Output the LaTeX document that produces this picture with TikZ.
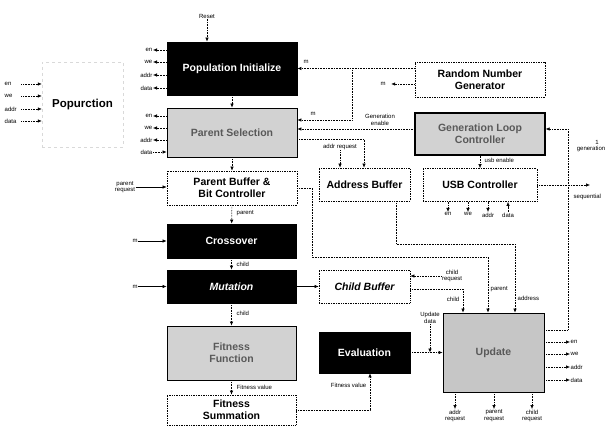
\documentclass[tikz,border=0pt]{standalone}
\usepackage{fontspec}
\setmainfont{Liberation Sans}
\usetikzlibrary{arrows.meta}
\begin{document}
\begin{tikzpicture}[x=1pt,y=-1pt,
  boxfont/.style={font=\bfseries\fontsize{10.5}{12}\selectfont},
  blk/.style={draw=black, fill=black, text=white, boxfont, align=center, inner sep=0pt, line width=0.8pt},
  gry/.style={draw=black, fill=gray!35, text=black!65, boxfont, align=center, inner sep=0pt, line width=0.8pt},
  wht/.style={draw=black, densely dotted, fill=white, text=black, boxfont, align=center, inner sep=0pt, line width=0.7pt},
  lbl/.style={font=\fontsize{6}{6.6}\selectfont, inner sep=0.5pt, align=center},
  arr/.style={-{Latex[length=4pt,width=3.5pt]}, densely dotted, line width=0.6pt},
  sarr/.style={-{Latex[length=4pt,width=3.5pt]}, line width=0.6pt},
]
\useasboundingbox[fill=white] (0,0) rectangle (609,427);

% ---------- boxes ----------
\node[blk, minimum width=130pt, minimum height=53pt] (popinit) at (232,68.5) {Population Initialize};
\node[gry, minimum width=130pt, minimum height=49pt] (parsel) at (232,132.5) {Parent Selection};
\node[wht, minimum width=130pt, minimum height=34pt] (parbuf) at (232,188) {Parent Buffer \&\\Bit Controller};
\node[blk, minimum width=129pt, minimum height=34pt] (cross) at (231.5,241) {Crossover};
\node[blk, minimum width=129pt, minimum height=33pt, font=\bfseries\itshape\fontsize{10.5}{12}\selectfont] (mut) at (231.5,286.5) {Mutation};
\node[gry, minimum width=129pt, minimum height=54pt] (fitfun) at (231.5,353) {Fitness\\Function};
\node[wht, minimum width=129pt, minimum height=30pt] (fitsum) at (231.5,410) {Fitness\\Summation};
\node[wht, minimum width=91pt, minimum height=33pt] (addrbuf) at (364.5,184.5) {Address Buffer};
\node[wht, minimum width=91pt, minimum height=33pt, font=\bfseries\itshape\fontsize{10.5}{12}\selectfont] (childbuf) at (364.5,286.5) {Child Buffer};
\node[blk, minimum width=91pt, minimum height=41pt] (eval) at (364.5,352.5) {Evaluation};
\node[gry, fill=gray!45, minimum width=101pt, minimum height=79pt] (update) at (493.5,352.5) {Update};
\node[wht, minimum width=130pt, minimum height=35pt] (rng) at (480,79.5) {Random Number\\Generator};
\node[gry, line width=1.2pt, minimum width=130pt, minimum height=42pt] (glc) at (480,134) {Generation Loop\\Controller};
\node[wht, minimum width=114pt, minimum height=33pt] (usb) at (480,185) {USB Controller};
\node[draw=gray!30, dashed, minimum width=81pt, minimum height=85pt, font=\bfseries\fontsize{11.5}{12.5}\selectfont] (pop) at (82.5,104.5) {Popurction};

% ---------- Popurction inputs ----------
\foreach \t/\y [count=\i] in {en/84, we/96, addr/109, data/121} {
  \node[lbl, anchor=west, text width=16pt, align=left] (pl\i) at (4,\y) {\t};
  \draw[arr] (pl\i.east) -- (pop.west |- pl\i.east);
}

% ---------- Reset ----------
\node[lbl] (reset) at (207,16) {Reset};
\draw[arr] (reset.south) -- (reset.south |- popinit.north);

% ---------- Population Initialize outputs ----------
\foreach \t/\y [count=\i] in {en/50, we/62, addr/75, data/88} {
  \node[lbl, anchor=east] (pi\i) at (153,\y) {\t};
  \draw[arr] (popinit.west |- pi\i.east) -- (pi\i.east);
}
% ---------- Parent Selection ports ----------
\foreach \t/\y [count=\i] in {en/116, we/128, addr/140} {
  \node[lbl, anchor=east] (ps\i) at (153,\y) {\t};
  \draw[arr] (parsel.west |- ps\i.east) -- (ps\i.east);
}
\node[lbl, anchor=east] (ps4) at (153,152) {data};
\draw[arr] (ps4.east) -- (parsel.west |- ps4.east);

% ---------- main column ----------
\draw[arr] (popinit) -- (parsel);
\draw[arr] (parsel) -- (parbuf);
\draw[arr] (parbuf) -- (cross);
\node[lbl, anchor=west] at (236,213) {parent};
\draw[arr] (cross) -- (mut);
\node[lbl, anchor=west] at (236,264) {child};
\draw[arr] (mut) -- (fitfun);
\node[lbl, anchor=west] at (236,313) {child};
\draw[arr] (fitfun) -- (fitsum);
\node[lbl, anchor=west] at (236,387) {Fitness value};

\node[lbl] (preq) at (125,187) {parent\\request};
\draw[sarr] (preq.east) -- (parbuf.west |- preq.east);
\node[lbl] (mc) at (135,241) {m};
\draw[sarr] (mc.east) -- (cross.west |- mc.east);
\node[lbl] (mm) at (135,286.5) {m};
\draw[sarr] (mm.east) -- (mut.west |- mm.east);
\draw[sarr] (mut) -- (childbuf);

% ---------- RNG ----------
\coordinate (c1) at (352,120);
\draw[arr] (rng.west |- popinit.east) -- (popinit.east);
\draw[arr] (c1 |- popinit.east) -- (c1) -- (parsel.east |- c1);
\node[lbl] at (306,62) {m};
\node[lbl] at (313,114) {m};
\node[lbl] (m3) at (383,84) {m};
\draw[arr, shorten >=5pt] (rng.west |- m3) -- (m3.east);

% ---------- Generation enable ----------
\coordinate (ge) at (415,129);
\draw[arr] (glc.west |- ge) -- (parsel.east |- ge);
\node[lbl] at (380,120) {Generation\\enable};

% ---------- address request ----------
\coordinate (ar) at (364,139);
\draw[arr] (parsel.east |- ar) -- (ar) -- (ar |- addrbuf.north);
\node[lbl] (areq) at (340,147) {addr request};
\draw[arr] (areq.south) -- (areq.south |- addrbuf.north);

% ---------- parent / address to Update ----------
\coordinate (pr1) at (312,257);
\coordinate (pr2) at (488,257);
\draw[arr] (parbuf.east) -- (parbuf.east -| pr1) -- (pr1) -- (pr2) -- (pr2 |- update.north);
\node[lbl, anchor=west] at (490,289) {parent};
\coordinate (ad1) at (396,244);
\coordinate (ad2) at (515,244);
\draw[arr] (addrbuf.south -| ad1) -- (ad1) -- (ad2) -- (ad2 |- update.north);
\node[lbl, anchor=west] at (517,298) {address};

% ---------- child buffer ----------
\node[lbl] (creq) at (452,276) {child\\request};
\draw[arr] (creq.west) -- (childbuf.east |- creq.west);
\coordinate (cb) at (463,289);
\draw[arr] (childbuf.east |- cb) -- (cb) -- (cb |- update.north);
\node[lbl, anchor=east] at (460,299) {child};

% ---------- evaluation ----------
\coordinate (fe) at (370,410);
\draw[arr] (fitsum.east) -- (fe) -- (fe |- eval.south);
\node[lbl, anchor=east] at (367,385) {Fitness value};
\draw[arr] (eval.east) -- (update.west);
\node[lbl] (updata) at (430,318) {Update\\data};
\draw[arr] (updata.south) -- (updata.south |- update.west);

% ---------- Update outputs ----------
\foreach \t/\y [count=\i] in {en/342, we/354, addr/367, data/380} {
  \node[lbl, anchor=west] (uo\i) at (570,\y) {\t};
  \draw[arr] (update.east |- uo\i.west) -- (uo\i.west);
}
\foreach \t/\x [count=\i] in {addr\\request/455, parent\\request/494, child\\request/532} {
  \node[lbl, anchor=north] (ub\i) at (\x,409) {\t};
  \draw[arr] (update.south -| ub\i.north) -- (ub\i.north);
}

% ---------- generation feedback ----------
\coordinate (fbk) at (568,330);
\coordinate (fbt) at (568,129);
\draw[arr] (update.east |- fbk) -- (fbk) -- (fbt) -- (glc.east |- fbt);
\node[lbl] at (591,146) {\hspace*{12pt}1\\generation};

% ---------- USB ----------
\draw[arr] (glc.south) -- (usb.north);
\node[lbl, anchor=west] at (484,160) {usb enable};
\foreach \t/\x [count=\i] in {en/448, we/468, addr/488} {
  \node[lbl, anchor=north] (us\i) at (\x,212) {\t};
  \draw[arr] (usb.south -| us\i.north) -- (us\i.north);
}
\node[lbl, anchor=north] (us4) at (508,212) {data};
\draw[arr] (us4.north) -- (usb.south -| us4.north);
\coordinate (sq) at (590,185);
\draw[arr] (usb.east) -- (sq);
\node[lbl, anchor=west] at (573,197) {sequential};

\end{tikzpicture}
\end{document}
